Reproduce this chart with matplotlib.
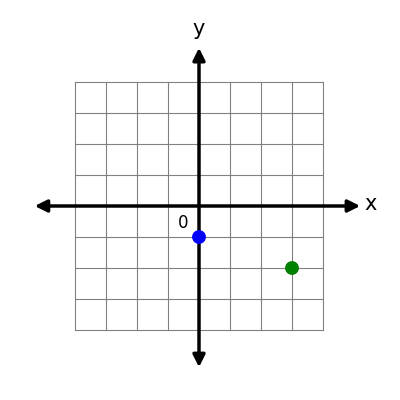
import matplotlib.pyplot as plt

grid_ticks = list(range(-4, 5))
point_x = [0, 3]
point_y = [-1, -2]
point_colors = ['blue', 'green']

u = 31.0
fig = plt.figure(figsize=(4, 4), dpi=100)
ax = fig.add_axes([0, 0, 1, 1])
ax.set_xlim(-199 / u, 201 / u)
ax.set_ylim(-194 / u, 206 / u)
ax.axis('off')

for t in grid_ticks:
    ax.plot([t, t], [-4, 4], color='gray', lw=0.8, zorder=1)
    ax.plot([-4, 4], [t, t], color='gray', lw=0.8, zorder=1)

kw = dict(arrowstyle='<|-|>', color='black', lw=2.5, mutation_scale=18, shrinkA=0, shrinkB=0)
ax.annotate('', xy=(5.2, 0), xytext=(-5.3, 0), arrowprops=kw, zorder=2)
ax.annotate('', xy=(0, 5.1), xytext=(0, -5.2), arrowprops=kw, zorder=2)

ax.text(5.35, 0.05, 'x', fontsize=15, ha='left', va='center')
ax.text(0, 5.4, 'y', fontsize=15, ha='center', va='bottom')
ax.text(-0.5, -0.55, '0', fontsize=12, ha='center', va='center')

ax.scatter(point_x, point_y, c=point_colors, s=80, zorder=3)

fig.savefig('out.png')
